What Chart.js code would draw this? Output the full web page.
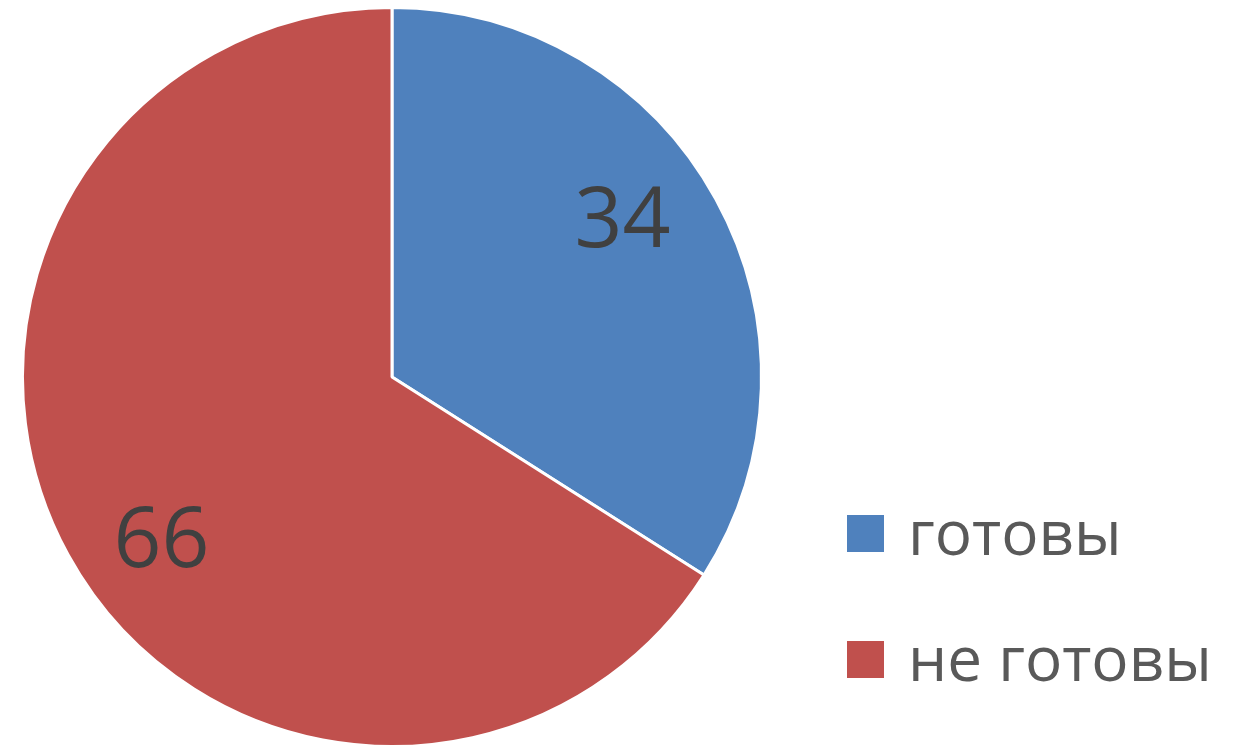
<!DOCTYPE html>
<html><head><meta charset="utf-8">
<script src="https://cdn.jsdelivr.net/npm/chart.js@4"></script>
<style>html,body{margin:0;padding:0;background:#fff;}#wrap{width:1240px;height:748px;}</style>
</head><body><div id="wrap"><canvas id="c"></canvas></div>
<script>
const categories = ['готовы', 'не готовы'];
const values = [34, 66];
const colors = ['#4F81BD', '#C0504D'];

const labelPlugin = {
  id: 'labels',
  afterDatasetsDraw(chart) {
    const ctx = chart.ctx;
    const meta = chart.getDatasetMeta(0);
    ctx.save();
    ctx.font = '84px "Open Sans"';
    ctx.fillStyle = '#404040';
    ctx.textAlign = 'center';
    ctx.textBaseline = 'alphabetic';
    meta.data.forEach((arc, i) => {
      const mid = (arc.startAngle + arc.endAngle) / 2 - 6 * Math.PI / 180;
      const r = arc.outerRadius * 0.76;
      const x = arc.x + Math.cos(mid) * r;
      const y = arc.y + Math.sin(mid) * r;
      ctx.fillText(String(values[i]), x, y + 30);
    });
    // legend
    const area = chart.chartArea;
    const lx = 847;
    ctx.font = '62px "Open Sans"';
    ctx.textAlign = 'left';
    categories.forEach((c, i) => {
      const top = 515 + i * 126;
      ctx.fillStyle = colors[i];
      ctx.fillRect(lx, top, 37, 37);
      ctx.fillStyle = '#595959';
      ctx.fillText(c, lx + 61, top + 40);
    });
    ctx.restore();
  }
};

new Chart(document.getElementById('c'), {
  type: 'pie',
  data: {
    labels: categories,
    datasets: [{ data: values, backgroundColor: colors, borderColor: '#ffffff', borderWidth: 3 }]
  },
  options: {
    responsive: true,
    maintainAspectRatio: false,
    animation: false,
    layout: { padding: { left: 20, right: 476, top: 6, bottom: -2 } },
    plugins: { legend: { display: false }, tooltip: { enabled: false } }
  },
  plugins: [labelPlugin]
});
</script></body></html>
